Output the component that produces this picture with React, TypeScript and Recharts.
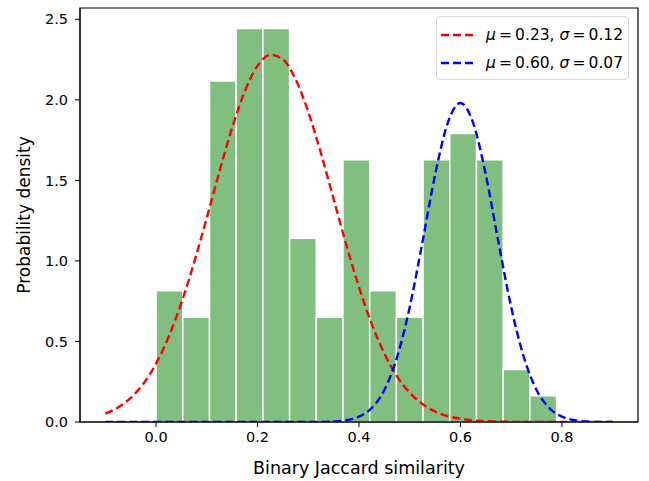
import { ComposedChart, Line, XAxis, YAxis, ReferenceArea } from 'recharts';

// histogram bin edges and density heights
const binEdges = [0, 0.0526, 0.1053, 0.1579, 0.2105, 0.2632, 0.3158, 0.3684, 0.4211, 0.4737, 0.5263, 0.5789, 0.6316, 0.6842, 0.7368, 0.7895];
const density = [0.814, 0.651, 2.117, 2.443, 2.443, 1.14, 0.651, 1.628, 0.814, 0.651, 1.628, 1.791, 1.628, 0.326, 0.163];

// fitted curves
const curveX = [
  -0.1, -0.075, -0.05, -0.025, 0, 0.025, 0.05, 0.075, 0.1, 0.125, 0.15, 0.175, 0.2, 0.225, 0.25, 0.275, 0.3, 0.325,
  0.35, 0.375, 0.4, 0.425, 0.45, 0.475, 0.5, 0.525, 0.55, 0.575, 0.6, 0.625, 0.65, 0.675, 0.7, 0.725, 0.75, 0.775,
  0.8, 0.825, 0.85, 0.875, 0.9,
];
const redY = [
  0.052, 0.09, 0.15, 0.238, 0.363, 0.531, 0.741, 0.991, 1.268, 1.556, 1.827, 2.054, 2.211, 2.279, 2.251, 2.127, 1.925, 1.668,
  1.384, 1.099, 0.837, 0.609, 0.425, 0.283, 0.182, 0.112, 0.065, 0.036, 0.02, 0.01, 0.005, 0.002, 0.001, 0, 0, 0,
  0, 0, 0, 0, 0,
];
const blueY = [
  0, 0, 0, 0, 0, 0, 0, 0, 0, 0, 0, 0, 0, 0, 0, 0, 0, 0,
  0.003, 0.011, 0.033, 0.087, 0.199, 0.402, 0.713, 1.115, 1.534, 1.857, 1.98, 1.857, 1.534, 1.115, 0.713, 0.402, 0.199, 0.087,
  0.033, 0.011, 0.003, 0, 0,
];

const xTicks = [0, 0.2, 0.4, 0.6, 0.8];
const yTicks = [0, 0.5, 1, 1.5, 2, 2.5];

const legendItems = [
  { color: '#ff0000', mu: '0.23', sigma: '0.12' },
  { color: '#0000ff', mu: '0.60', sigma: '0.07' },
];

const data = curveX.map((x, i) => ({ x, red: redY[i], blue: blueY[i] }));

const FONT = '"DejaVu Sans", sans-serif';
const TS = '\u2009';

function LegendBox() {
  return (
    <div
      style={{
        position: 'absolute',
        left: 436,
        top: 16,
        width: 193,
        height: 64,
        boxSizing: 'border-box',
        border: '1px solid #d6d6d6',
        borderRadius: 4,
        background: 'rgba(255,255,255,0.8)',
        padding: '4px 0 4px 4px',
        fontFamily: FONT,
        fontSize: 15.5,
        color: '#000',
      }}
    >
      {legendItems.map((it) => (
        <div key={it.mu} style={{ display: 'flex', alignItems: 'center', height: 28 }}>
          <svg width={32} height={6} style={{ marginRight: 13 }}>
            <line x1={0} y1={3} x2={32} y2={3} stroke={it.color} strokeWidth={2.4} strokeDasharray="8 4" />
          </svg>
          <span style={{ whiteSpace: 'nowrap' }}>
            <i>μ</i>{TS}={TS}{it.mu}, <i>σ</i>{TS}={TS}{it.sigma}
          </span>
        </div>
      ))}
    </div>
  );
}

export default function App() {
  return (
    <div style={{ position: 'absolute', left: 0, top: 0, width: 649, height: 481, background: '#fff' }}>
      <ComposedChart width={649} height={481} data={data} margin={{ top: 8, right: 11, bottom: 0, left: 0 }}>
        <XAxis
          dataKey="x"
          type="number"
          domain={[-0.15, 0.95]}
          ticks={xTicks}
          tickFormatter={(v: number) => v.toFixed(1)}
          height={59}
          tickSize={5}
          tickMargin={5}
          stroke="#000"
          tick={{ fill: '#000', fontSize: 14.5, fontFamily: FONT }}
          allowDataOverflow
          label={(p: any) => (
            <text
              x={p.viewBox.x + p.viewBox.width / 2}
              y={p.viewBox.y + 52}
              textAnchor="middle"
              fontFamily={FONT}
              fontSize={17.5}
              fill="#000"
            >
              Binary Jaccard similarity
            </text>
          )}
        />
        <YAxis
          type="number"
          domain={[0, 2.57]}
          ticks={yTicks}
          tickFormatter={(v: number) => v.toFixed(1)}
          width={80}
          tickSize={5}
          tickMargin={7}
          stroke="#000"
          tick={{ fill: '#000', fontSize: 14.5, fontFamily: FONT }}
          allowDataOverflow
          label={(p: any) => {
            const cx = 25;
            const cy = p.viewBox.y + p.viewBox.height / 2;
            return (
              <text
                x={cx}
                y={cy}
                transform={`rotate(-90 ${cx} ${cy})`}
                textAnchor="middle"
                dominantBaseline="middle"
                fontFamily={FONT}
                fontSize={17}
                fill="#000"
              >
                Probability density
              </text>
            );
          }}
        />
        {density.map((h, i) => (
          <ReferenceArea
            key={i}
            x1={binEdges[i]}
            x2={binEdges[i + 1]}
            y1={0}
            y2={h}
            fill="#80bf80"
            fillOpacity={1}
            stroke="#ffffff"
            strokeWidth={1.5}
            ifOverflow="visible"
          />
        ))}
        <Line
          type="monotone"
          dataKey="red"
          stroke="#ff0000"
          strokeWidth={2.4}
          strokeDasharray="8 4"
          dot={false}
          activeDot={false}
          isAnimationActive={false}
        />
        <Line
          type="monotone"
          dataKey="blue"
          stroke="#0000ff"
          strokeWidth={2.4}
          strokeDasharray="8 4"
          dot={false}
          activeDot={false}
          isAnimationActive={false}
        />
        <ReferenceArea
          x1={-0.15}
          x2={0.95}
          y1={0}
          y2={2.57}
          fill="none"
          stroke="#000"
          strokeWidth={1.2}
          strokeOpacity={1}
          ifOverflow="visible"
        />
      </ComposedChart>
      <LegendBox />
    </div>
  );
}
